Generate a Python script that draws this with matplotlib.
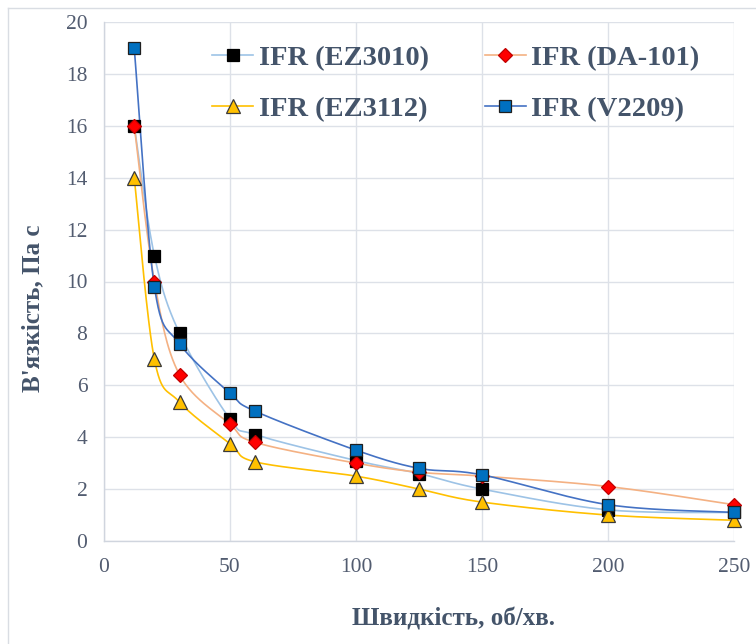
import numpy as np
import matplotlib
matplotlib.use("Agg")
import matplotlib.pyplot as plt
from matplotlib.lines import Line2D

speed = [12, 20, 30, 50, 60, 100, 125, 150, 200, 250]
ez3010 = [16.0, 11.0, 8.0, 4.7, 4.1, 3.1, 2.6, 2.0, 1.2, 1.1]
da101 = [16.0, 10.0, 6.4, 4.5, 3.8, 3.0, 2.65, 2.5, 2.1, 1.4]
ez3112 = [14.0, 7.0, 5.35, 3.75, 3.05, 2.5, 2.0, 1.5, 1.0, 0.8]
v2209 = [19.0, 9.8, 7.6, 5.7, 5.0, 3.5, 2.8, 2.55, 1.4, 1.1]
labels = ["IFR (EZ3010)", "IFR (DA-101)", "IFR (EZ3112)", "IFR (V2209)"]

xticks = [0, 50, 100, 150, 200, 250]
yticks = list(range(0, 21, 2))

TXT = "#44546A"
TICK = "#525C70"
GRID = "#DDE1E8"
SERIF = ["Liberation Serif", "DejaVu Serif"]


def smooth(x, y, sx, sy, n=30):
    """Parametric Catmull-Rom smoothing (Excel-like) in scaled space."""
    p = np.column_stack([np.asarray(x, float) / sx, np.asarray(y, float) / sy])
    p = np.vstack([p[0], p, p[-1]])
    out = []
    for i in range(1, len(p) - 2):
        p0, p1, p2, p3 = p[i - 1], p[i], p[i + 1], p[i + 2]
        t = np.linspace(0, 1, n)[:, None]
        c1 = p1 + (p2 - p0) / 6.0
        c2 = p2 - (p3 - p1) / 6.0
        seg = ((1 - t) ** 3) * p1 + 3 * ((1 - t) ** 2) * t * c1 + 3 * (1 - t) * t ** 2 * c2 + t ** 3 * p2
        out.append(seg if i == 1 else seg[1:])
    out = np.vstack(out)
    return out[:, 0] * sx, out[:, 1] * sy


fig = plt.figure(figsize=(7.56, 6.44), dpi=100)
ax = fig.add_axes([104 / 756, (644 - 541) / 644, (734 - 104) / 756, (541 - 22) / 644])

series = [
    (ez3010, "#9DC3E6", "s", "#000000", 9, "#000000"),
    (da101, "#F4B183", "D", "#FF0000", 7, "#C00000"),
    (ez3112, "#FFC000", "^", "#FFC000", 10.5, "#3A3A3A"),
    (v2209, "#4472C4", "s", "#0070C0", 9, "#1F1F1F"),
]

sx, sy = 250.0 / 630.0, 20.0 / 519.0
handles = []
for k, (vals, lc, mk, fc, ms, ec) in enumerate(series):
    xs, ys = smooth(speed, vals, sx, sy)
    ax.plot(xs, ys, color=lc, lw=1.2, zorder=2 + k * 0.1)
for k, (vals, lc, mk, fc, ms, ec) in enumerate(series):
    ax.plot(speed, vals, linestyle="none", marker=mk, markersize=ms,
            markerfacecolor=fc, markeredgecolor=ec, markeredgewidth=0.9,
            zorder=5 + k * 0.1, clip_on=False)
    handles.append(Line2D([0], [0], color=lc, lw=1.2, marker=mk, markersize=ms,
                          markerfacecolor=fc, markeredgecolor=ec, markeredgewidth=0.9))

ax.set_xlim(0, 250)
ax.set_ylim(0, 20)
ax.set_xticks(xticks)
ax.set_yticks(yticks)
ax.grid(True, color=GRID, lw=1.0)
ax.set_axisbelow(True)
for s in ["top", "right"]:
    ax.spines[s].set_visible(False)
for s in ["left", "bottom"]:
    ax.spines[s].set_color("#D0D5DE")
    ax.spines[s].set_linewidth(1.0)
ax.tick_params(length=0, pad=12, labelsize=15.5, labelcolor=TICK)
for lab in ax.get_xticklabels() + ax.get_yticklabels():
    lab.set_family(SERIF)

# row-major order in a 2-column legend: matplotlib fills column-first
order = [0, 2, 1, 3]
leg = fig.legend([handles[i] for i in order], [labels[i] for i in order], ncol=2,
                 loc="upper left", bbox_to_anchor=(212 / 756, 1 - 45 / 644), frameon=False,
                 prop={"family": SERIF, "weight": "bold", "size": 20.5},
                 handlelength=1.45, handletextpad=0.2, columnspacing=1.95,
                 labelspacing=0.87, borderpad=0, borderaxespad=0)
for t in leg.get_texts():
    t.set_color(TXT)

fig.text(453 / 756, 1 - 619 / 644, "Швидкість, об/хв.", ha="center", va="center",
         family=SERIF, weight="bold", size=18, color=TXT)
fig.text(33 / 756, 1 - 308 / 644, "В'язкість, Па с", ha="center", va="center",
         rotation=90, family=SERIF, weight="bold", size=18, color=TXT)

# chart border
fig.add_artist(Line2D([8 / 756, 8 / 756], [0, 1 - 8 / 644], color="#D9DDE3", lw=1.0,
                      transform=fig.transFigure))
fig.add_artist(Line2D([8 / 756, 1], [1 - 8 / 644, 1 - 8 / 644], color="#D9DDE3", lw=1.0,
                      transform=fig.transFigure))

fig.savefig("out.png", dpi=100)
